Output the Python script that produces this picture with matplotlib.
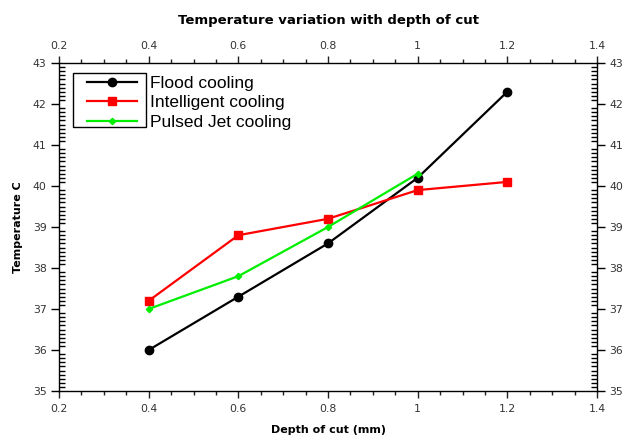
import matplotlib
matplotlib.use("Agg")
import matplotlib.pyplot as plt
from matplotlib.patches import Rectangle
from matplotlib.ticker import MultipleLocator

depth = [0.4, 0.6, 0.8, 1.0, 1.2]
flood = [36.0, 37.3, 38.6, 40.2, 42.3]
intelligent = [37.2, 38.8, 39.2, 39.9, 40.1]
pulsed_depth = [0.4, 0.6, 0.8, 1.0]
pulsed = [37.0, 37.8, 39.0, 40.3]
xticks = [0.2, 0.4, 0.6, 0.8, 1.0, 1.2, 1.4]
xticklabels = ["0.2", "0.4", "0.6", "0.8", "1", "1.2", "1.4"]

fig = plt.figure(figsize=(6.23, 4.36), dpi=100)
ax = fig.add_axes([0.0947, 0.1032, 0.8636, 0.7523])

ax.plot(depth, flood, color="black", lw=1.6, marker="o", ms=6, label="Flood cooling")
ax.plot(depth, intelligent, color="#ff0000", lw=1.6, marker="s", ms=5.8, label="Intelligent cooling")
ax.plot(pulsed_depth, pulsed, color="#00ee00", lw=1.6, marker="D", ms=3.2, label="Pulsed Jet cooling")

ax.set_xlim(0.2, 1.4)
ax.set_ylim(35, 43)
ax.set_xticks(xticks)
ax.set_xticklabels(xticklabels)
ax.xaxis.set_minor_locator(MultipleLocator(0.05))
ax.yaxis.set_minor_locator(MultipleLocator(0.1))

tickfont = 7.8
ax.tick_params(axis="x", which="both", top=True, labeltop=True, direction="out",
               labelsize=tickfont, colors="#222222", labelcolor="#333333", pad=4)
ax.tick_params(axis="x", which="major", length=5, width=1)
ax.tick_params(axis="x", which="minor", length=3, width=1)
ax.tick_params(axis="y", which="major", right=True, labelright=True, direction="out",
               length=6, width=1, labelsize=tickfont, labelcolor="#333333", pad=3)
ax.tick_params(axis="y", which="minor", right=True, direction="in", length=4, width=1)
for s in ax.spines.values():
    s.set_linewidth(1.0)

ax.set_title("Temperature variation with depth of cut", fontsize=9.5, fontweight="bold", pad=28)
ax.set_xlabel("Depth of cut (mm)", fontsize=8, fontweight="bold", labelpad=8)
ax.set_ylabel("Temperature C", fontsize=8, fontweight="bold", labelpad=7)

leg = ax.legend(loc="upper left", bbox_to_anchor=(0.029, 0.999), frameon=False,
                prop={"family": "Liberation Sans", "size": 12.5}, handlelength=2.9,
                handletextpad=0.75, labelspacing=0.27, borderpad=0.2)
ax.add_patch(Rectangle((0.026, 0.805), 0.135, 0.165, transform=ax.transAxes,
                       fill=False, edgecolor="black", lw=1.0))

fig.savefig("out.png", dpi=100)
